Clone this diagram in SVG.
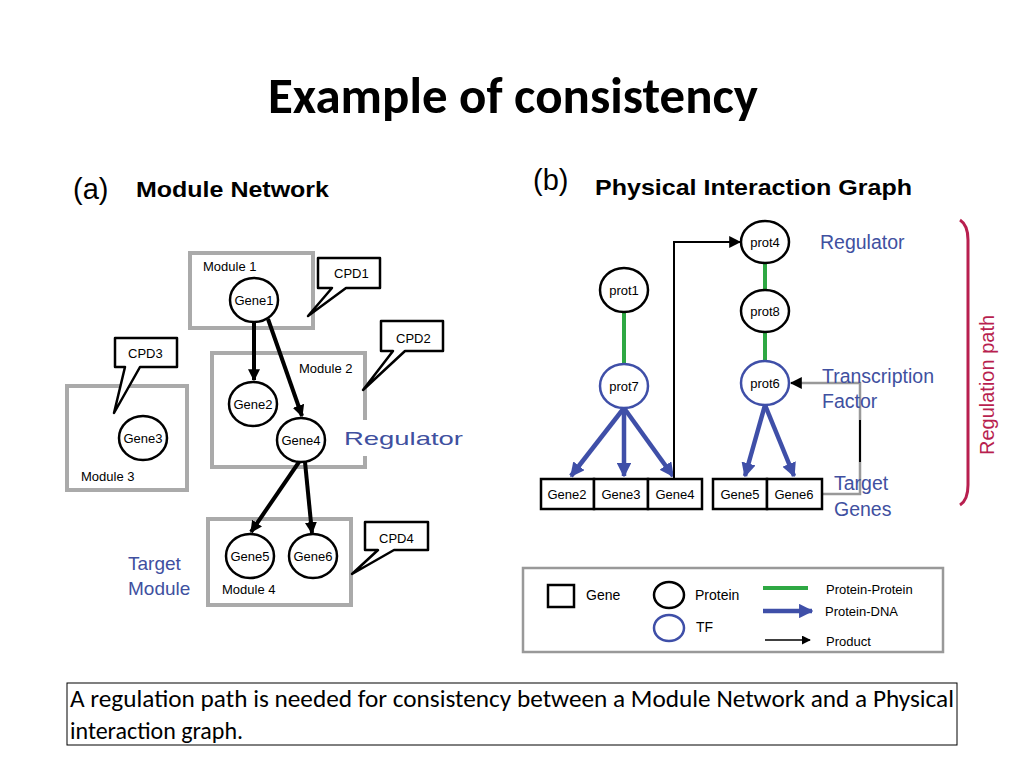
<svg xmlns="http://www.w3.org/2000/svg" width="1024" height="768" viewBox="0 0 1024 768">
<style>
text{font-family:"Liberation Sans",Arial,sans-serif}
.mod{fill:none;stroke:#aaa;stroke-width:4}
.g{fill:#fff;stroke:#000;stroke-width:2.5}
.gt{font-size:13px;text-anchor:middle}
.ml{font-size:13px}
.cpd{fill:#fff;stroke:#000;stroke-width:2.5;stroke-linejoin:round}
.blue{fill:#4050a0}
.p{fill:#fff;stroke:#000;stroke-width:2.5}
.tf{fill:#fff;stroke:#3f4fa8;stroke-width:2.5}
.gb{fill:#fff;stroke:#000;stroke-width:2.5}
.cal{font-family:Carlito,"Liberation Sans",sans-serif}
</style>
<defs>
<marker id="ab" viewBox="0 0 10 10" refX="9" refY="5" markerWidth="3" markerHeight="3" orient="auto"><path d="M0,0L10,5L0,10z" fill="#000"/></marker>
<marker id="abl" viewBox="0 0 10 10" refX="9" refY="5" markerWidth="3.2" markerHeight="3.2" orient="auto"><path d="M0,0L10,5L0,10z" fill="#3f4fa8"/></marker>
<marker id="ak" viewBox="0 0 10 10" refX="9" refY="5" markerWidth="6" markerHeight="6" orient="auto"><path d="M0,0L10,5L0,10z" fill="#000"/></marker>
</defs>
<rect width="1024" height="768" fill="#fff"/>
<text x="268" y="113" font-size="50" font-weight="bold" class="cal" textLength="490" lengthAdjust="spacingAndGlyphs">Example of consistency</text>
<text x="73" y="199" font-size="29">(a)</text>
<text x="136" y="197" font-size="22" font-weight="bold" textLength="193" lengthAdjust="spacingAndGlyphs">Module Network</text>
<text x="533" y="190" font-size="29">(b)</text>
<text x="595" y="195" font-size="22" font-weight="bold" textLength="317" lengthAdjust="spacingAndGlyphs">Physical Interaction Graph</text>

<g id="module1"><rect class="mod" x="190" y="253" width="123" height="75"/><text class="ml" x="203" y="271">Module 1</text></g>
<g id="module2"><rect class="mod" x="212" y="353" width="153" height="114"/><text class="ml" x="299" y="373">Module 2</text><rect x="340" y="420" width="128" height="36" fill="#fff"/><text x="344" y="445" font-size="19" class="blue" textLength="119" lengthAdjust="spacingAndGlyphs">Regulator</text></g>
<g id="module3"><rect class="mod" x="67" y="386" width="120" height="104"/><text class="ml" x="81" y="481">Module 3</text></g>
<g id="module4"><rect class="mod" x="208" y="519" width="143" height="86"/><text class="ml" x="222" y="594">Module 4</text></g>
<g id="cpd1"><path class="cpd" d="M318,258H380V288H346L308,316L332,288H318Z"/><text class="ml" x="334" y="278">CPD1</text></g>
<g id="cpd2"><path class="cpd" d="M381,321H443V351H405L363,390L393,351H381Z"/><text class="ml" x="396" y="343">CPD2</text></g>
<g id="cpd3"><path class="cpd" d="M115,338H177V367H140L114,413L125,367H115Z"/><text class="ml" x="128" y="358">CPD3</text></g>
<g id="cpd4"><path class="cpd" d="M365,522H428V550H394L352,574L378,550H365Z"/><text class="ml" x="379" y="543">CPD4</text></g>
<g id="gene1"><ellipse class="g" cx="254" cy="300" rx="24" ry="22"/><text class="gt" x="254" y="305">Gene1</text></g>
<g id="gene2"><ellipse class="g" cx="253" cy="404" rx="24" ry="22"/><text class="gt" x="253" y="409">Gene2</text></g>
<g id="gene3"><ellipse class="g" cx="143" cy="438" rx="24" ry="22"/><text class="gt" x="143" y="443">Gene3</text></g>
<g id="gene4"><ellipse class="g" cx="301" cy="440" rx="24" ry="22"/><text class="gt" x="301" y="445">Gene4</text></g>
<g id="gene5"><ellipse class="g" cx="250" cy="556" rx="24" ry="22"/><text class="gt" x="250" y="561">Gene5</text></g>
<g id="gene6"><ellipse class="g" cx="313" cy="556" rx="24" ry="22"/><text class="gt" x="313" y="561">Gene6</text></g>
<text x="128" y="570" font-size="19" class="blue">Target</text>
<text x="128" y="595" font-size="19" class="blue">Module</text>
<g id="connectors-a" stroke="#000" stroke-width="4" fill="none">
<line x1="254" y1="322" x2="254" y2="380" marker-end="url(#ab)"/>
<line x1="268" y1="319" x2="302" y2="416" marker-end="url(#ab)"/>
<line x1="299" y1="462" x2="251" y2="532" marker-end="url(#ab)"/>
<line x1="305" y1="462" x2="312" y2="533" marker-end="url(#ab)"/>
</g>

<g id="connectors-b" fill="none">
<line x1="624" y1="312" x2="624" y2="364" stroke="#2ea843" stroke-width="4"/>
<line x1="765" y1="264" x2="765" y2="289" stroke="#2ea843" stroke-width="4"/>
<line x1="765" y1="333" x2="765" y2="361" stroke="#2ea843" stroke-width="4"/>
<g stroke="#3f4fa8" stroke-width="4.5">
<line x1="624" y1="408" x2="571" y2="476" marker-end="url(#abl)"/>
<line x1="624" y1="408" x2="624" y2="476" marker-end="url(#abl)"/>
<line x1="624" y1="408" x2="673" y2="476" marker-end="url(#abl)"/>
<line x1="765" y1="405" x2="745" y2="476" marker-end="url(#abl)"/>
<line x1="765" y1="405" x2="794" y2="476" marker-end="url(#abl)"/>
</g>
<path d="M674,478V242H740" stroke="#000" stroke-width="2" marker-end="url(#ak)"/>
<path d="M822,494H860V383H791" stroke="#999" stroke-width="2.5"/>
<path d="M860,420V462" stroke="#000" stroke-width="2"/>
<path d="M800,383H791" stroke="#000" stroke-width="2" marker-end="url(#ak)"/>
</g>
<g id="prot4"><ellipse class="p" cx="765" cy="242" rx="24" ry="21"/><text class="gt" x="765" y="247">prot4</text></g>
<g id="prot1"><ellipse class="p" cx="624" cy="290" rx="24" ry="22"/><text class="gt" x="624" y="295">prot1</text></g>
<g id="prot8"><ellipse class="p" cx="765" cy="311" rx="24" ry="21"/><text class="gt" x="765" y="316">prot8</text></g>
<g id="prot7"><ellipse class="tf" cx="624" cy="386" rx="24" ry="22"/><text class="gt" x="624" y="391">prot7</text></g>
<g id="prot6"><ellipse class="tf" cx="765" cy="383" rx="24" ry="22"/><text class="gt" x="765" y="388">prot6</text></g>
<g id="genes-b" font-size="12">
<rect class="gb" x="541" y="479" width="53" height="30"/><text class="gt" x="567" y="499" font-size="12">Gene2</text>
<rect class="gb" x="594" y="479" width="54" height="30"/><text class="gt" x="621" y="499" font-size="12">Gene3</text>
<rect class="gb" x="648" y="479" width="54" height="30"/><text class="gt" x="675" y="499" font-size="12">Gene4</text>
<rect class="gb" x="713" y="479" width="54" height="30"/><text class="gt" x="740" y="499" font-size="12">Gene5</text>
<rect class="gb" x="767" y="479" width="55" height="30"/><text class="gt" x="794" y="499" font-size="12">Gene6</text>
</g>
<g class="blue" font-size="19.5">
<text x="820" y="249">Regulator</text>
<text x="822" y="383">Transcription</text>
<text x="822" y="408">Factor</text>
<text x="834" y="490">Target</text>
<text x="834" y="516">Genes</text>
</g>
<path d="M960,220Q968,225 968,240V485Q968,500 960,505" fill="none" stroke="#b81f4f" stroke-width="3"/>
<text transform="translate(994,385) rotate(-90)" font-size="20" fill="#b81f4f" text-anchor="middle">Regulation path</text>

<g id="legend">
<rect x="523" y="568" width="420" height="84" fill="#fff" stroke="#999" stroke-width="2.5"/>
<rect x="548" y="585" width="26" height="22" fill="#fff" stroke="#000" stroke-width="2.5"/>
<text x="586" y="600" font-size="14">Gene</text>
<ellipse cx="669" cy="595" rx="15" ry="13" fill="#fff" stroke="#000" stroke-width="2.5"/>
<text x="695" y="600" font-size="14">Protein</text>
<ellipse cx="669" cy="628" rx="15" ry="13" fill="#fff" stroke="#3f4fa8" stroke-width="2.5"/>
<text x="696" y="632" font-size="14">TF</text>
<line x1="763" y1="588" x2="808" y2="588" stroke="#2ea843" stroke-width="4"/>
<text x="826" y="594" font-size="13">Protein-Protein</text>
<line x1="763" y1="611" x2="812" y2="611" stroke="#3f4fa8" stroke-width="4.5" marker-end="url(#abl)"/>
<text x="825" y="616" font-size="13">Protein-DNA</text>
<line x1="765" y1="640" x2="810" y2="640" stroke="#000" stroke-width="1.5" marker-end="url(#ak)"/>
<text x="826" y="646" font-size="13">Product</text>
</g>
<rect x="67" y="683" width="890" height="62" fill="#fff" stroke="#000" stroke-width="1"/>
<text x="70" y="707" font-size="24" class="cal" textLength="884" lengthAdjust="spacingAndGlyphs">A regulation path is needed for consistency between a Module Network and a Physical</text>
<text x="70" y="739" font-size="24" class="cal">interaction graph.</text>
</svg>
